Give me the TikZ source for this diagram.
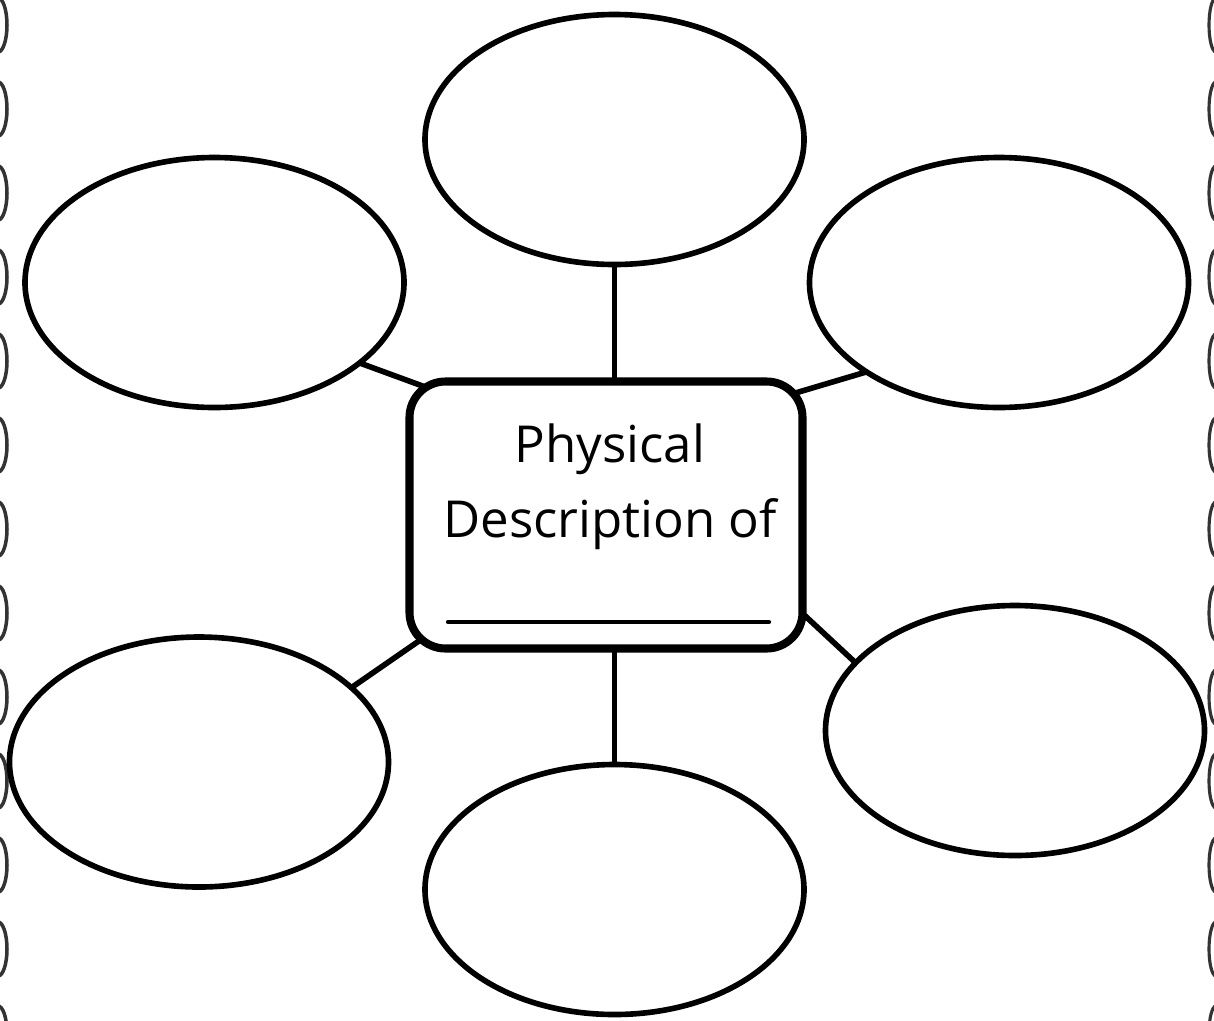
\documentclass[tikz,border=0pt]{standalone}
\usepackage{fontspec}
\setmainfont{Open Sans}
\usepackage{tikz}
\usetikzlibrary{shapes.geometric,backgrounds}
\definecolor{Ink}{HTML}{000000}
\definecolor{Curl}{HTML}{333333}

\tikzset{
  bubble/.style={draw=Ink,ellipse,line width=3.2pt,minimum width=7.58cm,minimum height=5cm,inner sep=0pt,outer sep=0pt},
  descbox/.style={draw=Ink,line width=4.6pt,fill=white,rounded corners=0.72cm,minimum width=7.86cm,minimum height=5.34cm},
  link/.style={draw=Ink,line width=3.2pt},
}

\begin{document}
\begin{tikzpicture}
    \useasboundingbox (0,0) rectangle (24.28,-20.4);

    % curls along the two edges
    \foreach \k in {0,...,12}{
      \draw[Curl,line width=2pt] (-0.04,{-0.5-1.68*\k}) ellipse (0.18 and 0.54);
      \draw[Curl,line width=1.8pt] (24.32,{-0.5-1.68*\k}) ellipse (0.14 and 0.54);
    }

    \node[descbox] (desc) at (12.12,-10.30) {};
    \node[anchor=base,align=center,font=\fontsize{29}{42.5}\selectfont] (title) at (12.2,-10.74) {Physical\\Description of};
    \draw[Ink,line width=2.4pt,line cap=round] (8.96,-12.44) -- (15.38,-12.44);

    \node[bubble] (top) at (12.29,-2.79) {};
    \node[bubble] (ul) at (4.29,-5.65) {};
    \node[bubble] (ur) at (19.98,-5.65) {};
    \node[bubble] (ll) at (3.98,-15.24) {};
    \node[bubble] (lr) at (20.30,-14.61) {};
    \node[bubble] (bot) at (12.29,-17.79) {};

    \begin{scope}[on background layer,shorten >=-0.6cm]
      \draw[link] (top.south) -- (top.south |- desc.north);
      \draw[link] (bot.north) -- (bot.north |- desc.south);
      \draw[link] (ul.-29) -- (desc.146.8);
      \draw[link] (ur.-146.3) -- (desc.32.4);
      \draw[link] (ll.26.4) -- (desc.-146.8);
      \draw[link] (lr.157.7) -- (desc.-27.7);
    \end{scope}
\end{tikzpicture}
\end{document}
